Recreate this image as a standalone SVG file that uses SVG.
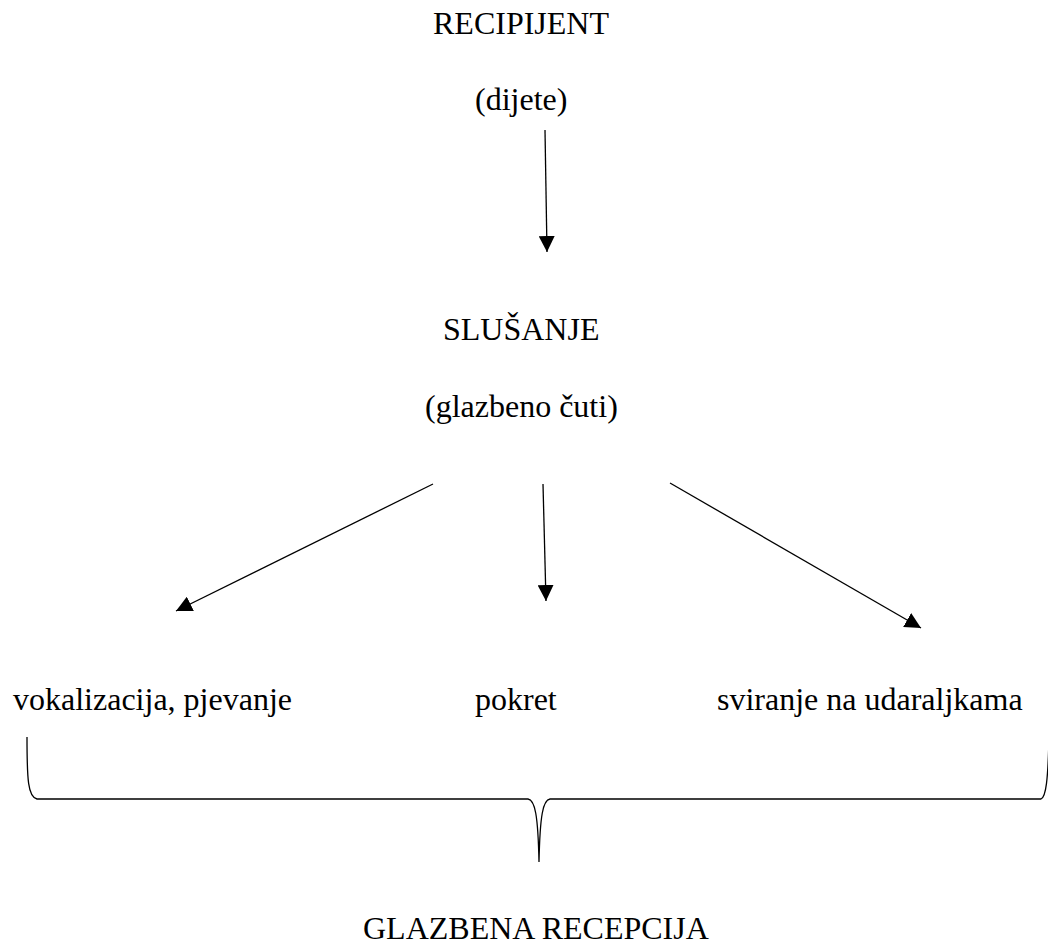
<svg xmlns="http://www.w3.org/2000/svg" width="1048" height="944" viewBox="0 0 1048 944">
<style>
text{font-family:"Liberation Serif","Times New Roman",serif;font-size:32px;fill:#000}
.c{stroke:#000;stroke-width:1.3;fill:none}
</style>
<defs>
<marker id="ah" markerUnits="userSpaceOnUse" markerWidth="16" markerHeight="16" refX="16" refY="8" orient="auto">
<path d="M0,0 L16,8 L0,16 z" fill="#000"/>
</marker>
</defs>
<rect width="1048" height="944" fill="#fff"/>
<g id="recipijent"><text x="433" y="34">RECIPIJENT</text><text x="475" y="110">(dijete)</text></g>
<g id="slusanje"><text x="443" y="340">SLUŠANJE</text><text x="425" y="417">(glazbeno čuti)</text></g>
<g id="vokalizacija"><text x="13" y="710">vokalizacija, pjevanje</text></g>
<g id="pokret"><text x="475" y="710">pokret</text></g>
<g id="sviranje"><text x="717" y="710">sviranje na udaraljkama</text></g>
<g id="recepcija"><text x="363" y="939">GLAZBENA RECEPCIJA</text></g>
<g id="connectors">
<line class="c" x1="545" y1="130" x2="547" y2="252" marker-end="url(#ah)"/>
<line class="c" x1="433" y1="484" x2="176" y2="611" marker-end="url(#ah)"/>
<line class="c" x1="543" y1="484" x2="546" y2="601" marker-end="url(#ah)"/>
<line class="c" x1="670" y1="483" x2="921" y2="628" marker-end="url(#ah)"/>
<path class="c" d="M27,737 C27,780 28,797 37,799 L528,799 C535,800 538,815 539,862 C540,815 543,800 550,799 L1041,799 C1046,797 1048,780 1049,737"/>
</g>
</svg>
